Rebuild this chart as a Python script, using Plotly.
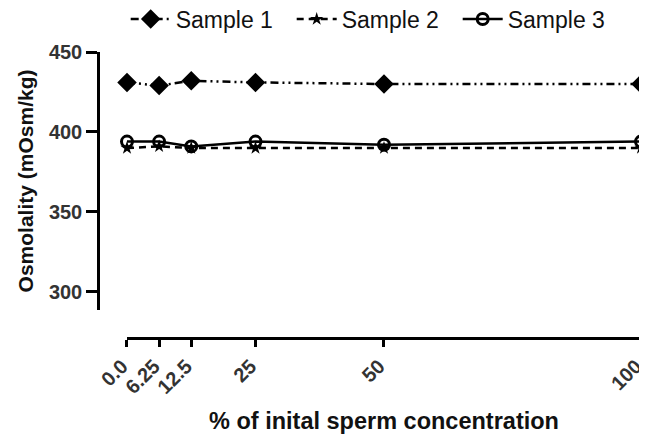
import plotly.graph_objects as go

x_vals = [0, 6.25, 12.5, 25, 50, 100]
x_tick_text = ["0.0", "6.25", "12.5", "25", "50", "100"]
sample1 = [431, 429, 432, 431, 430, 430]
sample2 = [390, 391, 390, 390, 390, 390]
sample3 = [394, 394, 391, 394, 392, 394]
y_ticks = [300, 350, 400, 450]

fig = go.Figure()
fig.add_trace(go.Scatter(x=x_vals, y=sample1, name="Sample 1", mode="lines+markers", cliponaxis=False,
                         line=dict(color="black", width=2.5, dash="8px,4px,2px,4px,2px,4px"),
                         marker=dict(symbol="diamond", size=15, color="black")))
fig.add_trace(go.Scatter(x=x_vals, y=sample2, name="Sample 2", mode="lines+markers", cliponaxis=False,
                         line=dict(color="black", width=2.5, dash="7px,5px"),
                         marker=dict(symbol="star", size=10, color="black")))
fig.add_trace(go.Scatter(x=x_vals, y=sample3, name="Sample 3", mode="lines+markers", cliponaxis=False,
                         line=dict(color="black", width=2.5),
                         marker=dict(symbol="circle-open", size=11, color="black", line=dict(width=3))))

fig.update_layout(
    width=639, height=426,
    margin=dict(l=90, r=6, t=44, b=96, autoexpand=False),
    paper_bgcolor="white", plot_bgcolor="white",
    font=dict(family="Liberation Sans, Arial", color="#222"),
    showlegend=True,
    legend=dict(orientation="h", x=0.051, xanchor="left", y=1.115, yanchor="middle",
                font=dict(size=23, color="#111"), traceorder="normal",
                itemwidth=40, entrywidth=111, tracegroupgap=0, bgcolor="rgba(0,0,0,0)"),
    xaxis=dict(domain=[0.0534, 1], range=[0, 100], tickvals=x_vals,
               ticktext=["<b>" + t + "</b>" for t in x_tick_text],
               tickangle=-45, ticks="outside", ticklen=7, tickwidth=2.5, tickcolor="black",
               showline=True, linewidth=2.5, linecolor="black", showgrid=False, zeroline=False,
               anchor="free", position=0, ticklabeloverflow="allow", ticklabelshift=-5,
               tickfont=dict(size=20, color="#333"),
               title=dict(text="<b>% of inital sperm concentration</b>", font=dict(size=23.5, color="#111"), standoff=15)),
    yaxis=dict(domain=[0.098, 1], range=[288.75, 450], tickvals=y_ticks,
               ticktext=["<b>" + str(v) + "</b>" for v in y_ticks],
               ticks="outside", ticklen=11, tickwidth=2.5, tickcolor="black",
               showline=True, linewidth=2.5, linecolor="black", showgrid=False, zeroline=False,
               anchor="free", position=0, ticklabeloverflow="allow",
               tickfont=dict(size=20, color="#333"),
               title=dict(text="<b>Osmolality (mOsm/kg)</b>", font=dict(size=21, color="#111"), standoff=8)),
)

fig.write_html("out.html")
